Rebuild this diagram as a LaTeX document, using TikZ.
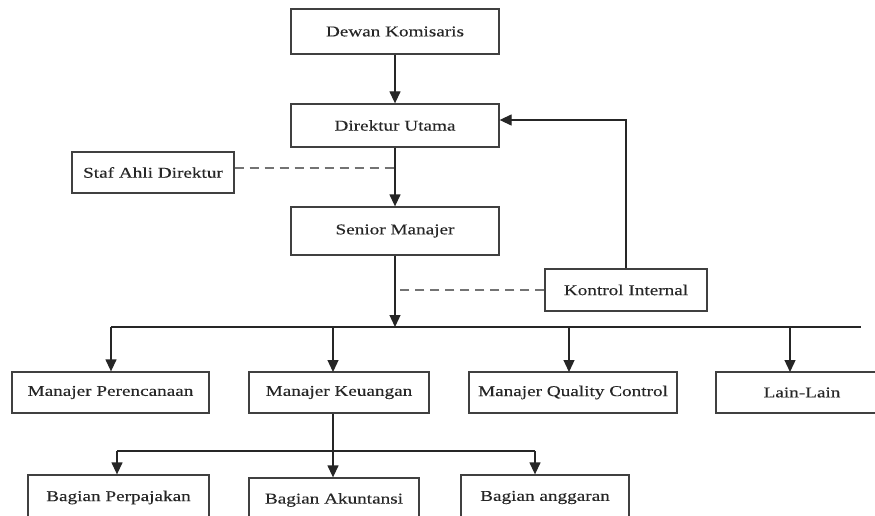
\documentclass[tikz,border=0pt]{standalone}
\usepackage{fontspec}
\newfontfamily\tnr[FakeStretch=1.28,FakeBold=0.2]{Liberation Serif}
\usetikzlibrary{arrows.meta}
\begin{document}
\begin{tikzpicture}[x=1pt,y=-1pt,
  orgbox/.style={draw=black!75,line width=1.3pt,inner sep=0pt,
    font=\tnr\fontsize{15}{18}\selectfont,text=black!85},
  conn/.style={draw=black!85,line width=1.3pt},
  arr/.style={conn,-{Triangle[length=12pt,width=11pt]}},
  dashconn/.style={draw=black!55,line width=1.2pt,dash pattern=on 9pt off 6pt}]
\useasboundingbox (0,0) rectangle (875,516);
\clip (0,0) rectangle (875,516);
\fill[white] (0,0) rectangle (875,516);
% boxes
\node[orgbox,minimum width=208pt,minimum height=45pt] (dk) at (395,31.5) {Dewan Komisaris};
\node[orgbox,minimum width=208pt,minimum height=43pt] (du) at (395,125.5) {Direktur Utama};
\node[orgbox,minimum width=162pt,minimum height=41pt] (staf) at (153,172.5) {Staf Ahli Direktur};
\node[orgbox,minimum width=208pt,minimum height=48pt] (sm) at (395,231) {Senior Manajer};
\node[orgbox,minimum width=162pt,minimum height=42pt] (ki) at (626,290) {Kontrol Internal};
\node[orgbox,minimum width=197pt,minimum height=41pt] (mp) at (110.5,392.5) {Manajer Perencanaan};
\node[orgbox,minimum width=180pt,minimum height=41pt] (mk) at (339,392.5) {Manajer Keuangan};
\node[orgbox,minimum width=208pt,minimum height=41pt] (mqc) at (573,392.5) {Manajer Quality Control};
\node[orgbox,minimum width=172pt,minimum height=41pt] (ll) at (802,392.5) {Lain-Lain};
\node[orgbox,minimum width=181pt,minimum height=45pt] (bp) at (118.5,497.5) {Bagian Perpajakan};
\node[orgbox,minimum width=170pt,minimum height=44pt] (ba) at (334,500) {Bagian Akuntansi};
\node[orgbox,minimum width=168pt,minimum height=45pt] (ban) at (545,497.5) {Bagian anggaran};
% junction coordinates
\coordinate (t0) at (395,327);
\coordinate (tl) at (111,327);
\coordinate (tr) at (861,327);
\coordinate (k0) at (333,451);
\coordinate (kl) at (117,451);
\coordinate (kr) at (535,451);
% connectors
\draw[arr] (dk.south) -- (du.north);
\draw[arr] (du.south) -- (sm.north);
\draw[dashconn] ([yshift=4.5pt]staf.east) -- ([yshift=4.5pt]staf.east -| du.south);
\draw[arr] (sm.south) -- (t0);
\draw[conn] (tl) -- (tr);
\draw[dashconn] (ki.west) -- (ki.west -| t0);
\draw[arr] (ki.north) |- ([yshift=5.5pt]du.east);
\draw[arr] (tl) -- (tl |- mp.north);
\draw[arr] (333,327) -- (333,372);
\draw[arr] (569,327) -- (569,372);
\draw[arr] (790,327) -- (790,372);
\draw[conn] (mk.south -| k0) -- (k0);
\draw[conn] (kl) -- (kr);
\draw[arr] (kl) -- (kl |- bp.north);
\draw[arr] (k0) -- (k0 |- ba.north);
\draw[arr] (kr) -- (kr |- ban.north);
\end{tikzpicture}
\end{document}
